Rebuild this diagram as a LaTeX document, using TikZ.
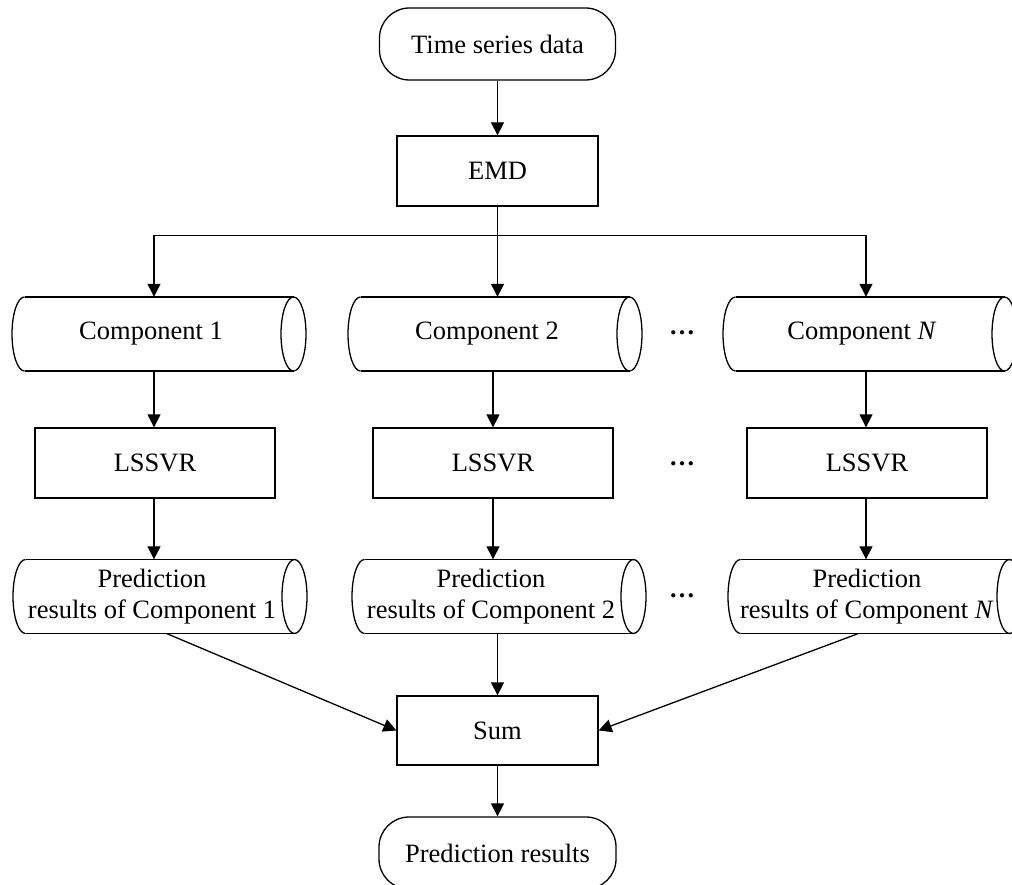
\documentclass[tikz,border=0pt]{standalone}
\usepackage{fontspec}
\setmainfont{Liberation Serif}
\usetikzlibrary{arrows.meta,calc}
\tikzset{
  base/.style={line width=1.3pt},
  arr/.style={base,-{Triangle[length=13pt,width=13pt]}},
  boxnode/.style={base,draw,rectangle,minimum width=201pt,minimum height=70pt,inner sep=0pt},
  lsnode/.style={base,draw,rectangle,minimum width=240pt,minimum height=70pt,inner sep=0pt},
  termnode/.style={base,draw,rectangle,rounded corners=30pt,minimum width=236pt,minimum height=72pt,inner sep=0pt},
  cylnode/.style={rectangle,minimum width=268pt,minimum height=74pt,inner sep=0pt,align=center},
  dotsnode/.style={inner sep=0pt,font=\fontsize{26}{31}\selectfont\bfseries},
}
\newcommand\cylout[1]{%
  \draw[base] ($(#1.center)+(-126.5,-37)$) -- ($(#1.center)+(142.5,-37)$)
        ($(#1.center)+(-126.5,37)$) -- ($(#1.center)+(142.5,37)$);
  \draw[base] ($(#1.center)+(142.5,0)$) ellipse [x radius=12.5pt, y radius=37pt];
  \draw[base] ($(#1.center)+(-126.5,-37)$) arc[start angle=90,end angle=270,x radius=12.5pt,y radius=37pt];}
\begin{document}
\begin{tikzpicture}[x=1pt,y=-1pt,font=\fontsize{26.5}{31}\selectfont]
\useasboundingbox (0,0) rectangle (1012,885);
% top
\node[termnode] (tsd) at (497.5,44) {Time series data};
\node[boxnode] (emd) at (497.5,171) {EMD};
% components
\node[cylnode] (c1) at (151,334) {Component 1};
\node[cylnode] (c2) at (487,334) {Component 2};
\node[cylnode] (cn) at (862,334) {Component \textit{N}};
\cylout{c1}\cylout{c2}\cylout{cn}
% LSSVR
\node[lsnode] (l1) at (155,463) {LSSVR};
\node[lsnode] (l2) at (493,463) {LSSVR};
\node[lsnode] (ln) at (867,463) {LSSVR};
% predictions
\node[cylnode] (p1) at (152,596.5) {Prediction\\results of Component 1};
\node[cylnode] (p2) at (491,596.5) {Prediction\\results of Component 2};
\node[cylnode] (pn) at (867,596.5) {Prediction\\results of Component \textit{N}};
\cylout{p1}\cylout{p2}\cylout{pn}
% dots
\node[dotsnode] (d1) at (682,333) {…};
\node[dotsnode] (d2) at (682,464) {…};
\node[dotsnode] (d3) at (682,596) {…};
% bottom
\node[boxnode,minimum height=69pt] (sum) at (497.5,730.5) {Sum};
\node[termnode,minimum width=237pt] (res) at (497.5,853) {Prediction results};
% connectors
\draw[arr] (tsd.south) -- (emd.north);
\coordinate (br) at ($(emd.south)+(0,29)$);
\draw[arr] (emd.south) -- (emd.south |- c2.north);
\draw[arr] (br) -| ([xshift=-1pt]l1.north |- c1.north);
\draw[arr] (br) -| ([xshift=-1pt]ln.north |- cn.north);
\draw[arr] ([xshift=-1pt]l1.north |- c1.south) -- ([xshift=-1pt]l1.north);
\draw[arr] (l2.north |- c2.south) -- (l2.north);
\draw[arr] ([xshift=-1pt]ln.north |- cn.south) -- ([xshift=-1pt]ln.north);
\draw[arr] ([xshift=-1pt]l1.south) -- ([xshift=-1pt]l1.south |- p1.north);
\draw[arr] (l2.south) -- (l2.south |- p2.north);
\draw[arr] ([xshift=-1pt]ln.south) -- ([xshift=-1pt]ln.south |- pn.north);
\draw[arr] ([xshift=15pt]p1.south) -- (sum.west);
\draw[arr] (sum.north |- p2.south) -- (sum.north);
\draw[arr] ([xshift=-9pt]pn.south) -- (sum.east);
\draw[arr] (sum.south) -- (res.north);
\end{tikzpicture}
\end{document}
